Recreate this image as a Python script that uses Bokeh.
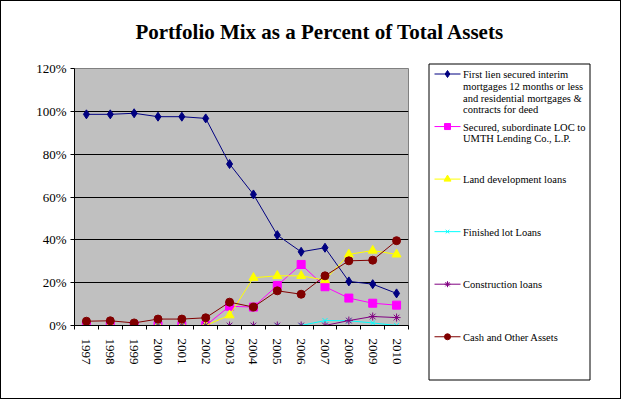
import math
from bokeh.plotting import figure
from bokeh.layouts import column, row
from bokeh.models import FixedTicker, Range1d
from bokeh.embed import file_html
from bokeh.resources import INLINE

title_text = "Portfolio Mix as a Percent of Total Assets"

years = ["1997", "1998", "1999", "2000", "2001", "2002", "2003",
         "2004", "2005", "2006", "2007", "2008", "2009", "2010"]

first_lien = [98.6, 98.6, 99.1, 97.5, 97.5, 96.7, 75.4, 61.2, 42.2, 34.4, 36.3, 20.6, 19.3, 15.0]
secured_loc = [0, 0, 0, 0, 0, 0, 9.0, 8.6, 18.7, 28.5, 18.1, 12.8, 10.4, 9.5]
land_dev = [0, 0, 0, 0, 0, 0, 4.8, 22.3, 23.2, 23.2, 21.2, 33.2, 35.0, 33.2]
finished_lot = [0, 0, 0, 0, 0, 0, 0, 0, 0, 0, 2.3, 2.2, 1.2, 0]
construction = [0, 0, 0, 0, 0, 0, 0, 0, 0, 0, 0, 2.3, 4.2, 3.7]
cash_other = [2.0, 2.2, 1.2, 3.0, 3.0, 3.6, 10.9, 8.6, 16.2, 14.6, 23.2, 30.2, 30.5, 39.6]

series_names = [
    "First lien secured  interim\nmortgages  12 months or less\nand residential mortgages  &\ncontracts  for deed",
    "Secured, subordinate LOC to\nUMTH Lending  Co., L.P.",
    "Land development  loans",
    "Finished lot Loans",
    "Construction loans",
    "Cash and Other  Assets",
]
series_values = [first_lien, secured_loc, land_dev, finished_lot, construction, cash_other]
colors = ["#000080", "#FF00FF", "#FFFF00", "#00FFFF", "#800080", "#800000"]
markers = ["diamond", "square", "triangle", "x", "asterisk", "circle"]
sizes = [9, 8, 9, 7, 8, 8]

yticks = [0, 20, 40, 60, 80, 100, 120]
xs = list(range(len(years)))

SERIF = "Liberation Serif"

# ---------- title strip (page coordinates) ----------
pt = figure(width=619, height=59, output_backend="svg", toolbar_location=None,
            x_range=Range1d(1, 620), y_range=Range1d(60, 1),
            x_axis_location=None, y_axis_location=None,
            min_border_left=0, min_border_right=0, min_border_top=0, min_border_bottom=0)
pt.grid.visible = False
pt.outline_line_color = None
pt.background_fill_color = "white"
pt.border_fill_color = "white"
pt.text(x=[319.5], y=[31], text=[title_text], text_align="center",
        text_baseline="middle", text_font={"value": SERIF},
        text_font_size="21px", text_font_style="bold", text_color="black")

# ---------- main chart ----------
p = figure(width=419, height=338, output_backend="svg", toolbar_location=None,
           x_range=Range1d(-0.5, len(years) - 0.5), y_range=Range1d(0, 120),
           min_border_left=73, min_border_right=12, min_border_top=8,
           min_border_bottom=73)
p.background_fill_color = "#C0C0C0"
p.border_fill_color = "white"
p.outline_line_color = "#808080"
p.outline_line_width = 1

p.yaxis.ticker = FixedTicker(ticks=yticks)
p.yaxis.major_label_overrides = {t: f"{t}%" for t in yticks}
p.yaxis.major_label_text_font = SERIF
p.yaxis.major_label_text_font_size = "13px"
p.yaxis.major_label_text_color = "black"
p.yaxis.axis_line_color = "black"
p.yaxis.major_tick_line_color = "black"
p.yaxis.major_tick_out = 4
p.yaxis.major_tick_in = 0
p.yaxis.minor_tick_line_color = None
p.yaxis.major_label_standoff = 4

p.xaxis.ticker = FixedTicker(ticks=xs, minor_ticks=[i - 0.5 for i in range(len(years) + 1)])
p.xaxis.major_label_overrides = {i: y for i, y in enumerate(years)}
p.xaxis.major_label_orientation = -math.pi / 2
p.xaxis.major_label_text_font = SERIF
p.xaxis.major_label_text_font_size = "13px"
p.xaxis.major_label_text_color = "black"
p.xaxis.axis_line_color = "black"
p.xaxis.major_tick_line_color = None
p.xaxis.major_tick_out = 0
p.xaxis.major_tick_in = 0
p.xaxis.minor_tick_line_color = "black"
p.xaxis.minor_tick_out = 4
p.xaxis.minor_tick_in = 0
p.xaxis.major_label_standoff = 9

p.xgrid.grid_line_color = None
p.ygrid.ticker = FixedTicker(ticks=[20, 40, 60, 80, 100])
p.ygrid.grid_line_color = "black"
p.ygrid.grid_line_width = 1

for vals, c, m, s in zip(series_values, colors, markers, sizes):
    p.line(xs, vals, line_color=c, line_width=1)
    p.scatter(xs, vals, marker=m, size=s, fill_color=c, line_color=c, line_width=1)

# ---------- legend panel (page coordinates) ----------
pl = figure(width=200, height=338, output_backend="svg", toolbar_location=None,
            x_range=Range1d(420, 620), y_range=Range1d(398, 60),
            x_axis_location=None, y_axis_location=None,
            min_border_left=0, min_border_right=0, min_border_top=0, min_border_bottom=0)
pl.grid.visible = False
pl.outline_line_color = None
pl.background_fill_color = "white"
pl.border_fill_color = "white"

box_l, box_r, box_t, box_b = 428.5, 589.5, 63.5, 379.5
pl.quad(left=[box_l], right=[box_r], top=[box_t], bottom=[box_b],
        fill_color="white", line_color="black", line_width=1)

slot0, pitch, line_h = 73.5, 52.55, 11.7
for i, (name, c, m, s) in enumerate(zip(series_names, colors, markers, sizes)):
    yc = slot0 + i * pitch
    pl.segment(x0=[434], x1=[460], y0=[yc], y1=[yc], line_color=c, line_width=1)
    pl.scatter(x=[447], y=[yc], marker=m, size=s - 2, fill_color=c, line_color=c, line_width=1)
    lines = name.split("\n")
    pl.text(x=[462.5] * len(lines), y=[yc + 0.7 + k * line_h for k in range(len(lines))],
            text=lines, text_align="left", text_baseline="middle",
            text_font={"value": SERIF}, text_font_size="10.5px", text_color="black")

layout = column(pt, row(p, column(pl)),
                styles={"border": "1px solid black", "box-sizing": "border-box"})

open("out.html", "w").write(file_html(layout, INLINE))
